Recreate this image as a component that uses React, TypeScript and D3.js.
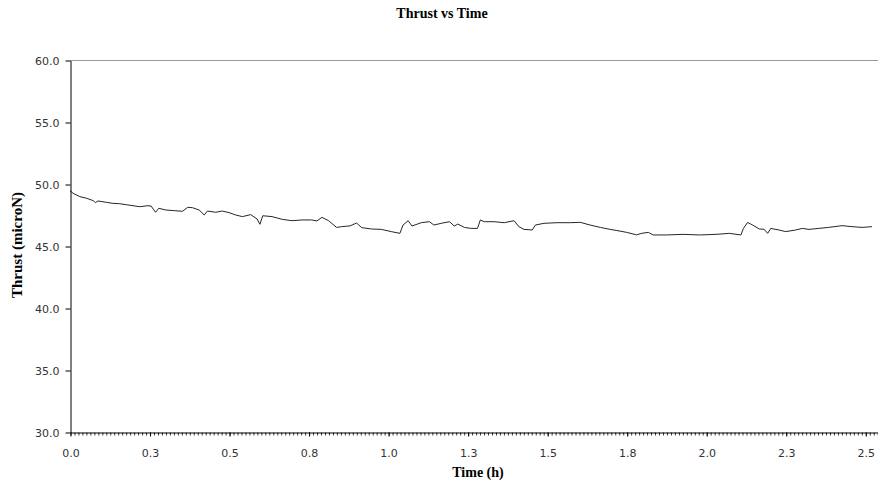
import React, { useEffect, useRef } from "react";
import * as d3 from "d3";

// readings: time (h) and thrust (microN)
const timeHours = [
  0.0, 0.01, 0.031, 0.052, 0.073, 0.08, 0.088, 0.115, 0.135, 0.156, 0.177, 0.198,
  0.219, 0.245, 0.255, 0.269, 0.279, 0.302, 0.328, 0.354, 0.37, 0.385, 0.406, 0.422,
  0.432, 0.458, 0.479, 0.5, 0.521, 0.542, 0.568, 0.588, 0.597, 0.606, 0.635, 0.667,
  0.698, 0.729, 0.76, 0.776, 0.792, 0.813, 0.838, 0.854, 0.88, 0.901, 0.917, 0.948,
  0.979, 1.01, 1.037, 1.047, 1.063, 1.075, 1.104, 1.13, 1.144, 1.167, 1.193, 1.208,
  1.219, 1.24, 1.26, 1.281, 1.29, 1.302, 1.333, 1.365, 1.396, 1.411, 1.427, 1.453,
  1.463, 1.49, 1.531, 1.573, 1.604, 1.635, 1.667, 1.698, 1.719, 1.75, 1.781, 1.797,
  1.818, 1.833, 1.875, 1.927, 1.979, 2.031, 2.073, 2.109, 2.117, 2.13, 2.146, 2.167,
  2.182, 2.193, 2.203, 2.229, 2.25, 2.281, 2.302, 2.323, 2.354, 2.385, 2.427, 2.458,
  2.49, 2.521,
];
const thrustMicroN = [
  49.46, 49.25, 48.98, 48.85, 48.66, 48.5, 48.63, 48.52, 48.44, 48.41, 48.33, 48.25,
  48.17, 48.25, 48.22, 47.72, 48.04, 47.9, 47.85, 47.8, 48.12, 48.09, 47.9, 47.5,
  47.82, 47.72, 47.82, 47.69, 47.5, 47.37, 47.53, 47.18, 46.75, 47.44, 47.37, 47.15,
  47.04, 47.1, 47.1, 47.02, 47.31, 47.04, 46.5, 46.56, 46.62, 46.85, 46.48, 46.37,
  46.34, 46.16, 46.02, 46.69, 47.04, 46.61, 46.88, 46.96, 46.69, 46.83, 46.96, 46.61,
  46.77, 46.5, 46.42, 46.42, 47.1, 46.96, 46.96, 46.88, 47.04, 46.56, 46.34, 46.29,
  46.69, 46.83, 46.88, 46.88, 46.91, 46.69, 46.5, 46.34, 46.25, 46.1, 45.9, 46.02,
  46.1, 45.89, 45.89, 45.94, 45.89, 45.94, 46.02, 45.89, 46.42, 46.9, 46.69, 46.37,
  46.35, 46.02, 46.42, 46.29, 46.16, 46.29, 46.42, 46.34, 46.42, 46.5, 46.64, 46.56,
  46.5, 46.56,
];
const xTickValues = [0, 0.25, 0.5, 0.75, 1.0, 1.25, 1.5, 1.75, 2.0, 2.25, 2.5];
const yTickValues = [30, 35, 40, 45, 50, 55, 60];

const App = () => {
  const svgRef = useRef(null);

  useEffect(() => {
    const svg = d3.select(svgRef.current);
    svg.selectAll("*").remove();
    const left = 70, right = 878, top = 60, bottom = 432;

    const x = d3.scaleLinear().domain([0, 2.54]).range([left, right]);
    const y = d3.scaleLinear().domain([30, 60]).range([bottom, top]);
    const fmt = d3.format(".1f");

    svg.append("rect").attr("width", 878).attr("height", 492).attr("fill", "#fff");

    // plot frame top edge
    svg.append("line")
      .attr("x1", left).attr("x2", right)
      .attr("y1", top + 0.5).attr("y2", top + 0.5)
      .attr("stroke", "#9a9a9a");

    const data = timeHours.map((t, i) => [t, thrustMicroN[i]]);
    const line = d3.line()
      .x((d) => x(d[0]))
      .y((d) => y(d[1]));
    svg.append("path")
      .datum(data)
      .attr("fill", "none")
      .attr("stroke", "#262626")
      .attr("stroke-width", 1)
      .attr("d", line);

    // minor ticks along the time axis
    svg.append("g")
      .attr("transform", `translate(0.5, ${bottom + 0.5})`)
      .call(d3.axisBottom(x).tickValues(d3.range(0, 2.54, 0.0125)).tickSize(3).tickFormat(() => ""))
      .call((g) => g.select(".domain").remove())
      .selectAll("line").attr("stroke", "#333");

    const gx = svg.append("g")
      .attr("transform", `translate(0.5, ${bottom + 0.5})`)
      .call(d3.axisBottom(x).tickValues(xTickValues).tickFormat(fmt).tickSize(4).tickSizeOuter(0).tickPadding(13));
    gx.select(".domain").attr("stroke", "#000");

    const gy = svg.append("g")
      .attr("transform", `translate(${left + 0.5}, 0.5)`)
      .call(d3.axisLeft(y).tickValues(yTickValues).tickFormat(fmt).tickSize(5).tickSizeOuter(0).tickPadding(6));
    gy.select(".domain").attr("stroke", "#000");

    svg.selectAll(".tick text")
      .attr("font-family", "DejaVu Sans, sans-serif")
      .attr("font-size", 11)
      .attr("fill", "#333");

    const serif = "'Liberation Serif', 'Times New Roman', serif";
    svg.append("text")
      .attr("x", 442).attr("y", 18)
      .attr("text-anchor", "middle")
      .attr("font-family", serif).attr("font-weight", "bold").attr("font-size", 14)
      .text("Thrust vs Time");

    svg.append("text")
      .attr("x", 478).attr("y", 477)
      .attr("text-anchor", "middle")
      .attr("font-family", serif).attr("font-weight", "bold").attr("font-size", 14)
      .text("Time (h)");

    svg.append("text")
      .attr("transform", "translate(22, 245) rotate(-90)")
      .attr("text-anchor", "middle")
      .attr("font-family", serif).attr("font-weight", "bold").attr("font-size", 15)
      .text("Thrust (microN)");
  }, []);

  return (
    <svg
      ref={svgRef}
      width={878}
      height={492}
      style={{ position: "absolute", left: 0, top: 0 }}
    ></svg>
  );
};

export default App;
